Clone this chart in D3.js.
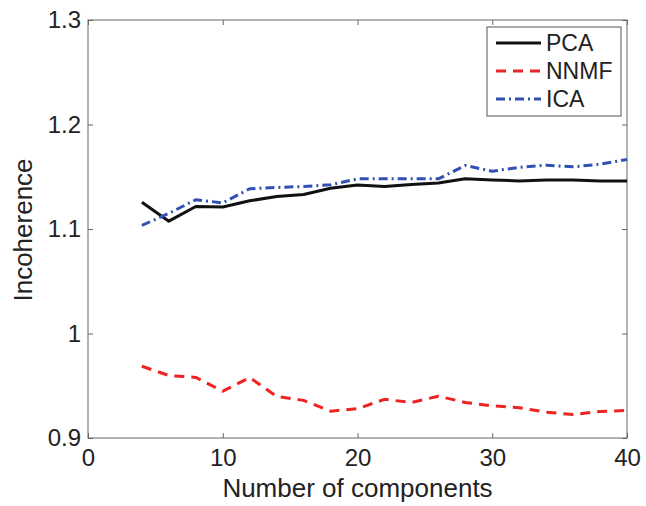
<!DOCTYPE html>
<html>
<head>
<meta charset="utf-8">
<script src="https://cdn.jsdelivr.net/npm/d3@7"></script>
<style>
  body { margin: 0; background: #fff; }
  svg { display: block; font-family: "Liberation Sans", Arial, Helvetica, sans-serif; }
</style>
</head>
<body>
<svg id="chart"></svg>
<script>
"use strict";

var width = 646;
var height = 506;

// incoherence vs number of components, one value per method
var components = [4, 6, 8, 10, 12, 14, 16, 18, 20, 22, 24, 26, 28, 30, 32, 34, 36, 38, 40];
var pca = [1.1256, 1.1075, 1.1215, 1.121, 1.127, 1.131, 1.133, 1.139, 1.142, 1.1407, 1.1426, 1.144, 1.148, 1.147, 1.146, 1.147, 1.147, 1.146, 1.146];
var nnmf = [0.9687, 0.9598, 0.958, 0.9448, 0.9578, 0.9397, 0.936, 0.9257, 0.928, 0.937, 0.934, 0.940, 0.934, 0.9308, 0.929, 0.9247, 0.9225, 0.9254, 0.9263];
var ica = [1.1034, 1.115, 1.128, 1.125, 1.1385, 1.1397, 1.1407, 1.1423, 1.148, 1.148, 1.148, 1.148, 1.1608, 1.1553, 1.159, 1.161, 1.1595, 1.162, 1.1665];

var xTicks = [0, 10, 20, 30, 40];
var yTicks = [0.9, 1, 1.1, 1.2, 1.3];

var series = [
  { name: "PCA", values: pca, color: "#111111", dash: null },
  { name: "NNMF", values: nnmf, color: "#ee2424", dash: "10,7" },
  { name: "ICA", values: ica, color: "#3050b4", dash: "9,4,2,4" }
];

var plotLeft = 88, plotRight = 627, plotTop = 20, plotBottom = 438;

var svg = d3.select("#chart").attr("width", width).attr("height", height);

var x = d3.scaleLinear().domain([0, 40]).range([plotLeft, plotRight]);
var y = d3.scaleLinear().domain([0.9, 1.3]).range([plotBottom, plotTop]);

var axisColor = "#666";

function styleAxis(g) {
  g.select(".domain").remove();
  g.selectAll(".tick line").attr("stroke", axisColor).attr("stroke-width", 1);
  g.selectAll(".tick text").attr("fill", "#222").attr("font-size", 24).attr("font-family", null);
}

// bottom and left axes with ticks pointing inward
svg.append("g").attr("transform", "translate(0," + plotBottom + ")")
  .call(d3.axisBottom(x).tickValues(xTicks).tickSizeInner(-5).tickSizeOuter(0).tickPadding(11).tickFormat(d3.format("d")))
  .call(styleAxis);

svg.append("g").attr("transform", "translate(" + plotLeft + ",0)")
  .call(d3.axisLeft(y).tickValues(yTicks).tickSizeInner(-5).tickSizeOuter(0).tickPadding(7).tickFormat(function (d) { return d === 1 ? "1" : d3.format(".1f")(d); }))
  .call(styleAxis);

// mirrored ticks on top and right
svg.append("g").attr("transform", "translate(0," + plotTop + ")")
  .call(d3.axisTop(x).tickValues(xTicks).tickSizeInner(-5).tickSizeOuter(0).tickFormat(""))
  .call(styleAxis);

svg.append("g").attr("transform", "translate(" + plotRight + ",0)")
  .call(d3.axisRight(y).tickValues(yTicks).tickSizeInner(-5).tickSizeOuter(0).tickFormat(""))
  .call(styleAxis);

svg.append("rect")
  .attr("x", plotLeft).attr("y", plotTop)
  .attr("width", plotRight - plotLeft).attr("height", plotBottom - plotTop)
  .attr("fill", "none").attr("stroke", axisColor).attr("stroke-width", 1);

var line = d3.line()
  .x(function (d, i) { return x(components[i]); })
  .y(function (d) { return y(d); });

svg.selectAll(".series").data(series).enter().append("path")
  .attr("class", "series")
  .attr("d", function (s) { return line(s.values); })
  .attr("fill", "none")
  .attr("stroke", function (s) { return s.color; })
  .attr("stroke-width", 3)
  .attr("stroke-linejoin", "round")
  .attr("stroke-dasharray", function (s) { return s.dash; });

// axis titles
svg.append("text")
  .attr("x", (plotLeft + plotRight) / 2).attr("y", 497)
  .attr("text-anchor", "middle").attr("font-size", 26).attr("fill", "#222")
  .text("Number of components");

svg.append("text")
  .attr("transform", "translate(32,230) rotate(-90)")
  .attr("text-anchor", "middle").attr("font-size", 26).attr("fill", "#222")
  .text("Incoherence");

// legend
var legend = svg.append("g");
legend.append("rect")
  .attr("x", 487).attr("y", 27).attr("width", 134).attr("height", 89)
  .attr("fill", "#fff").attr("stroke", "#555").attr("stroke-width", 1);

var rows = legend.selectAll(".row").data(series).enter().append("g")
  .attr("class", "row")
  .attr("transform", function (s, i) { return "translate(0," + (43 + i * 28) + ")"; });

rows.append("line")
  .attr("x1", 496).attr("x2", 541)
  .attr("stroke", function (s) { return s.color; })
  .attr("stroke-width", 3)
  .attr("stroke-dasharray", function (s) { return s.dash; });

rows.append("text")
  .attr("x", 546).attr("dy", "0.36em")
  .attr("font-size", 23).attr("fill", "#222")
  .text(function (s) { return s.name; });
</script>
</body>
</html>
